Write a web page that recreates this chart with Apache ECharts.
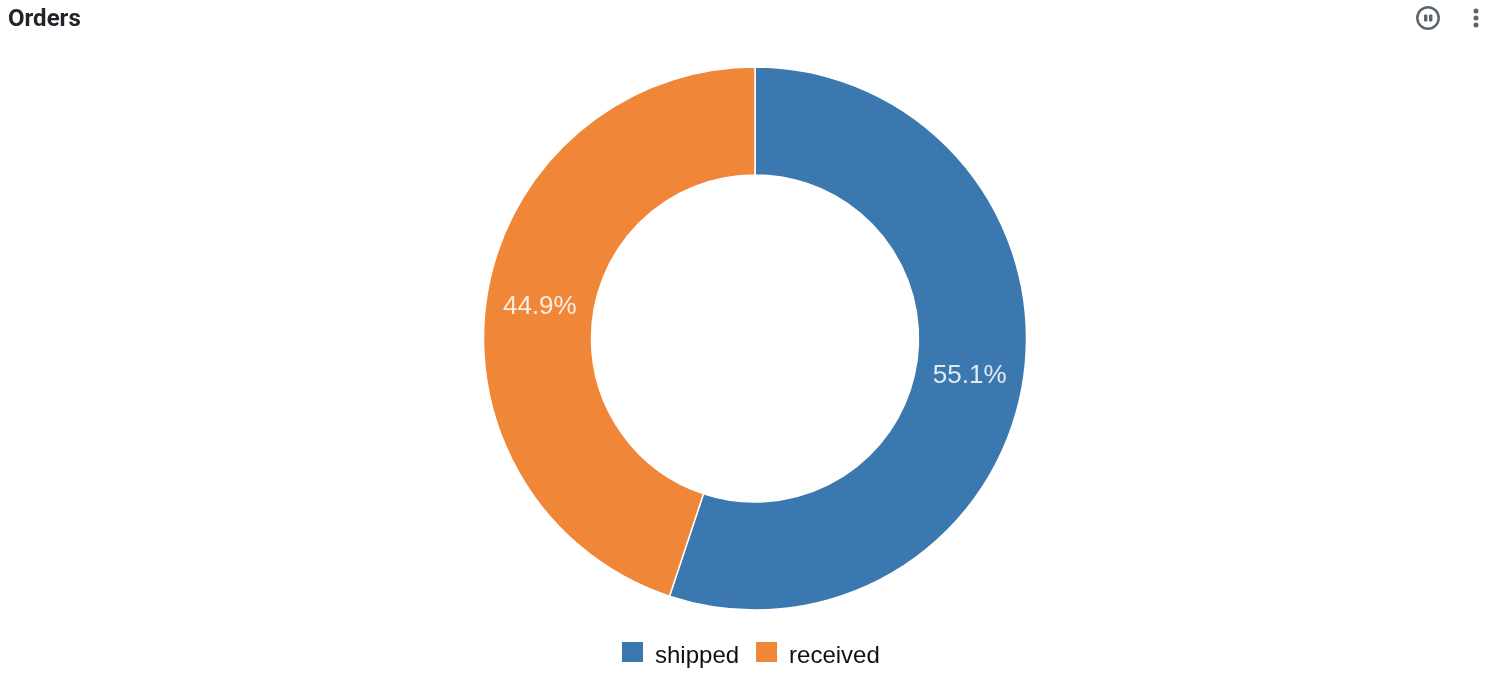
<!DOCTYPE html>
<html>
<head>
    <meta charset="UTF-8">
    <title>Orders</title>
    <style>
        html, body { margin: 0; padding: 0; background: #fff; }
        #chart { width: 1504px; height: 684px; }
    </style>
</head>
<body>
<div id="chart"></div>
<script src="https://cdn.jsdelivr.net/npm/echarts@6/dist/echarts.min.js"></script>
<script>
    var chartTitle = 'Orders';
    var categories = ['shipped', 'received'];
    var orderValues = [55.1, 44.9];
    var colors = ['#3a78af', '#f08638'];
    var iconColor = '#5b6570';
    // nudges the percent labels towards the hole
    var labelOffset = [[-3, 2], [2.5, 3.5]];

    var myChart = echarts.init(document.getElementById('chart'));
    var option = {
        animation: false,
        title: {
            text: chartTitle,
            left: 8,
            top: 8,
            padding: 0,
            textStyle: { fontFamily: 'Roboto', fontSize: 24, fontWeight: 'bold', color: '#212529' }
        },
        legend: {
            data: categories,
            left: 622,
            top: 642,
            padding: 0,
            itemWidth: 21,
            itemHeight: 20,
            itemGap: 17,
            icon: 'rect',
            itemStyle: { borderWidth: 0 },
            formatter: '{t|{name}}',
            textStyle: {
                rich: {
                    t: { fontFamily: 'Liberation Sans', fontSize: 24, color: '#111', padding: [8, 0, 0, 7] }
                }
            }
        },
        color: colors,
        series: [{
            type: 'pie',
            center: [755, 338.5],
            radius: [163.5, 271.5],
            startAngle: 90,
            clockwise: true,
            itemStyle: { borderColor: '#fff', borderWidth: 1.5 },
            label: {
                position: 'inside',
                formatter: '{d}%',
                fontFamily: 'Liberation Sans',
                fontSize: 26,
                color: 'rgba(255,255,255,0.85)'
            },
            labelLine: { show: false },
            emphasis: { disabled: true },
            data: categories.map(function (name, i) {
                return { name: name, value: orderValues[i], label: { offset: labelOffset[i] } };
            })
        }],
        graphic: [
            // pause button, top right
            { type: 'circle', shape: { cx: 1428, cy: 18, r: 10.7 }, style: { fill: 'none', stroke: iconColor, lineWidth: 2.5 } },
            { type: 'rect', shape: { x: 1424, y: 14.5, width: 3.4, height: 7, r: 1 }, style: { fill: iconColor } },
            { type: 'rect', shape: { x: 1429, y: 14.5, width: 3.4, height: 7, r: 1 }, style: { fill: iconColor } },
            // more menu
            { type: 'circle', shape: { cx: 1476, cy: 11, r: 2.5 }, style: { fill: iconColor } },
            { type: 'circle', shape: { cx: 1476, cy: 18, r: 2.5 }, style: { fill: iconColor } },
            { type: 'circle', shape: { cx: 1476, cy: 25, r: 2.5 }, style: { fill: iconColor } }
        ]
    };
    myChart.setOption(option);
</script>
</body>
</html>
